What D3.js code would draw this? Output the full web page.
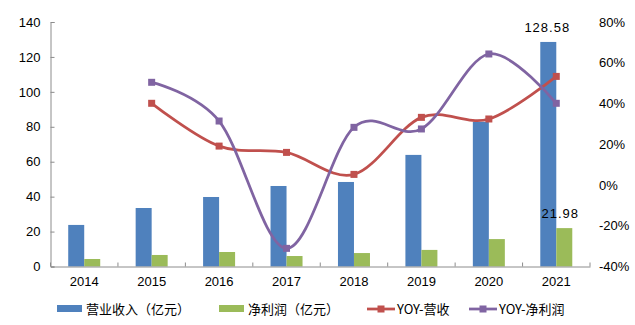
<!DOCTYPE html>
<html><head><meta charset="utf-8">
<script src="https://cdn.jsdelivr.net/npm/d3@7"></script>
<style>body{margin:0;background:#fff}svg{display:block}</style>
</head><body><svg id="c" width="635" height="325"></svg>
<script>
const years = ["2014","2015","2016","2017","2018","2019","2020","2021"];
const revenue = [23.8, 33.5, 39.8, 46.1, 48.4, 63.9, 82.9, 128.58];
const profit = [4.3, 6.6, 8.3, 6.0, 7.7, 9.5, 15.7, 21.98];
const yoyRevenue = [null, 40.1, 19.1, 16.0, 5.2, 33.2, 32.4, 53.3];
const yoyProfit = [null, 50.4, 31.4, -31.1, 28.3, 27.5, 64.3, 40.1];
const leftTicks = [0, 20, 40, 60, 80, 100, 120, 140];
const rightTicks = [-40, -20, 0, 20, 40, 60, 80];
const seriesNames = ["营业收入（亿元）", "净利润（亿元）", "YOY-营收", "YOY-净利润"];
const colors = {rev:"#4F81BD", prof:"#9BBB59", yr:"#C0504D", yp:"#8064A2"};

const svg = d3.select("#c");
const L = 50.5, R = 590, T = 22, B = 266.5;
const x = d3.scaleBand().domain(years).range([L, R]);
const yL = d3.scaleLinear().domain([0, 140]).range([B, T]);
const yR = d3.scaleLinear().domain([-40, 80]).range([B, T]);
const font = "'Liberation Sans', Arial, sans-serif";
const axisCol = "#8c8c8c";
const bw = 16;

// left axis (ticks inside)
const gl = svg.append("g").attr("transform", `translate(${L},0)`)
  .call(d3.axisLeft(yL).tickValues(leftTicks).tickSize(-4).tickPadding(10));
gl.select(".domain").attr("stroke", axisCol);
gl.selectAll(".tick line").attr("stroke", axisCol);
gl.selectAll("text").attr("font-family", font).attr("font-size", 13).attr("fill", "#000");

// right axis (labels only)
const gr = svg.append("g").attr("transform", `translate(${R},0)`)
  .call(d3.axisRight(yR).tickValues(rightTicks).tickSize(0).tickPadding(9).tickFormat(d => d + "%"));
gr.select(".domain").remove();
gr.selectAll("text").attr("font-family", font).attr("font-size", 13).attr("fill", "#000");

// bars
svg.append("g").selectAll("rect").data(years).join("rect")
  .attr("x", d => x(d) + x.bandwidth()/2 - bw).attr("width", bw)
  .attr("y", (d,i) => yL(revenue[i])).attr("height", (d,i) => B - yL(revenue[i]))
  .attr("fill", colors.rev);
svg.append("g").selectAll("rect").data(years).join("rect")
  .attr("x", d => x(d) + x.bandwidth()/2).attr("width", bw)
  .attr("y", (d,i) => yL(profit[i])).attr("height", (d,i) => B - yL(profit[i]))
  .attr("fill", colors.prof);

// x axis
const gx = svg.append("g").attr("transform", `translate(0,${B})`)
  .call(d3.axisBottom(x).tickSize(0).tickPadding(10));
gx.select(".domain").attr("stroke", axisCol);
gx.selectAll("text").attr("font-family", font).attr("font-size", 13).attr("fill", "#000");
const bounds = years.map(d => x(d)).concat([R]);
svg.append("g").selectAll("line").data(bounds).join("line")
  .attr("x1", d => d).attr("x2", d => d).attr("y1", B).attr("y2", B - 4)
  .attr("stroke", axisCol);

// lines
function drawLine(vals, col) {
  const pts = years.map((d,i) => ({d, v: vals[i]})).filter(p => p.v !== null);
  const line = d3.line().x(p => x(p.d) + x.bandwidth()/2).y(p => yR(p.v)).curve(d3.curveCardinal.tension(0));
  svg.append("path").datum(pts).attr("d", line).attr("fill", "none")
    .attr("stroke", col).attr("stroke-width", 2.75);
  svg.append("g").selectAll("rect").data(pts).join("rect")
    .attr("x", p => x(p.d) + x.bandwidth()/2 - 3.5).attr("y", p => yR(p.v) - 3.5)
    .attr("width", 7).attr("height", 7).attr("fill", col);
}
drawLine(yoyRevenue, colors.yr);
drawLine(yoyProfit, colors.yp);

// data labels
const last = years.length - 1;
svg.append("text").attr("x", x(years[last]) + x.bandwidth()/2 - bw/2 - 1).attr("y", yL(revenue[last]) - 10)
  .attr("text-anchor", "middle").attr("font-family", font).attr("font-size", 13)
  .attr("letter-spacing", 1).text(revenue[last].toFixed(2));
svg.append("text").attr("x", x(years[last]) + x.bandwidth()/2 + 4).attr("y", yL(profit[last]) - 10)
  .attr("text-anchor", "middle").attr("font-family", font).attr("font-size", 13)
  .attr("letter-spacing", 1).text(profit[last].toFixed(2));

// legend
const lg = svg.append("g").attr("font-family", "'Noto Sans CJK SC', sans-serif").attr("font-size", 13);
const ly = 309;
const items = [
  {x: 57, type: "bar", col: colors.rev, name: seriesNames[0]},
  {x: 219, type: "bar", col: colors.prof, name: seriesNames[1]},
  {x: 367, type: "line", col: colors.yr, name: seriesNames[2]},
  {x: 469, type: "line", col: colors.yp, name: seriesNames[3]}
];
items.forEach(it => {
  if (it.type === "bar") {
    lg.append("rect").attr("x", it.x).attr("y", ly - 4).attr("width", 25).attr("height", 7).attr("fill", it.col);
  } else {
    lg.append("line").attr("x1", it.x).attr("x2", it.x + 28).attr("y1", ly).attr("y2", ly)
      .attr("stroke", it.col).attr("stroke-width", 2.75);
    lg.append("rect").attr("x", it.x + 10.5).attr("y", ly - 3.5).attr("width", 7).attr("height", 7).attr("fill", it.col);
  }
  lg.append("text").attr("x", it.x + (it.type === "bar" ? 29 : 30)).attr("y", ly).attr("dy", "0.35em").text(it.name);
});
</script></body></html>
